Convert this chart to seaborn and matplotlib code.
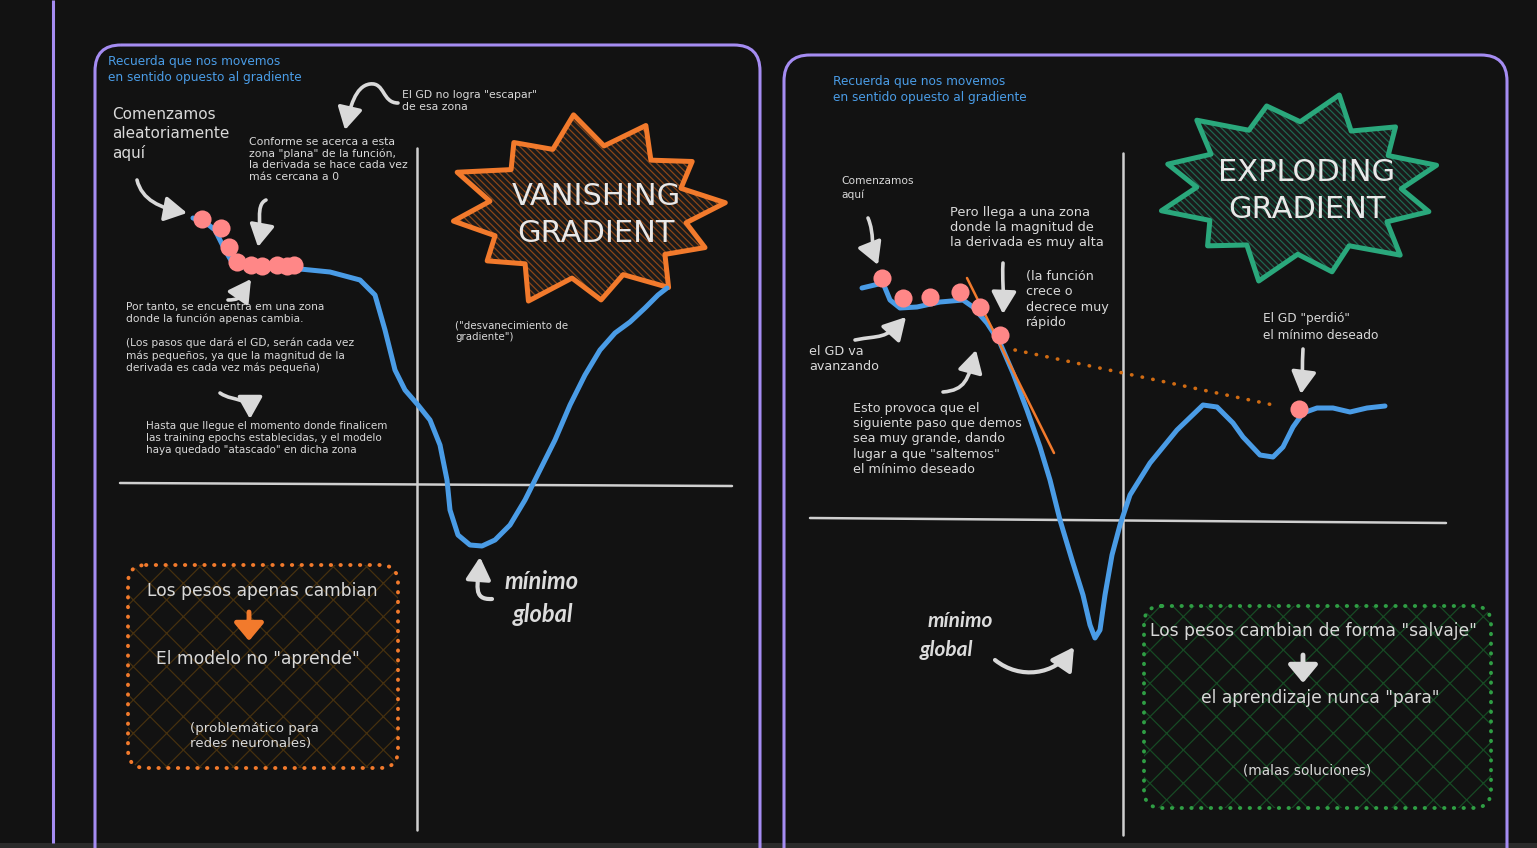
import numpy as np
import pandas as pd
import matplotlib
matplotlib.use("Agg")
import matplotlib.pyplot as plt
import seaborn as sns
from matplotlib.patches import FancyBboxPatch, Polygon, FancyArrowPatch, Rectangle
from matplotlib.path import Path

# ---------------- data ----------------
# Vanishing gradient panel: loss curve (x, y in arbitrary function units)
van_x = [-2.24, -2.12, -2.02, -1.92, -1.85, -1.72, -1.27, -0.87, -0.57, -0.42, -0.32, -0.22,
         -0.12, 0.01, 0.13, 0.23, 0.30, 0.33, 0.41, 0.53, 0.65, 0.78, 0.93, 1.08, 1.23, 1.38,
         1.53, 1.68, 1.83, 1.98, 2.13, 2.28, 2.41, 2.50]
van_y = [2.66, 2.62, 2.54, 2.34, 2.22, 2.17, 2.16, 2.12, 2.04, 1.89, 1.54, 1.14,
         0.94, 0.79, 0.64, 0.39, 0.04, -0.26, -0.51, -0.61, -0.62, -0.56, -0.41, -0.16, 0.14, 0.44,
         0.79, 1.09, 1.34, 1.51, 1.62, 1.76, 1.89, 1.96]
van_steps_x = [-2.15, -1.96, -1.88, -1.80, -1.66, -1.55, -1.40, -1.30, -1.23]
van_steps_y = [2.65, 2.56, 2.37, 2.22, 2.19, 2.18, 2.19, 2.18, 2.19]

# Exploding gradient panel: loss curve
exp_x = [-2.61, -2.40, -2.33, -2.23, -2.06, -1.83, -1.60, -1.50, -1.36, -1.23, -1.10, -0.96,
         -0.83, -0.73, -0.63, -0.51, -0.40, -0.33, -0.28, -0.23, -0.18, -0.11, -0.03, 0.07,
         0.27, 0.54, 0.80, 0.94, 1.10, 1.20, 1.37, 1.50, 1.60, 1.70, 1.80, 1.94, 2.10, 2.27,
         2.44, 2.62]
exp_y = [2.32, 2.37, 2.20, 2.12, 2.13, 2.18, 2.20, 2.13, 1.97, 1.77, 1.47, 1.10,
         0.73, 0.40, 0.00, -0.40, -0.75, -1.05, -1.18, -1.10, -0.75, -0.35, -0.05, 0.25,
         0.57, 0.90, 1.15, 1.13, 0.97, 0.83, 0.65, 0.63, 0.73, 0.93, 1.07, 1.12, 1.12, 1.08,
         1.12, 1.14]
exp_steps_x = [-2.41, -2.20, -1.93, -1.63, -1.43, -1.23, 1.76]
exp_steps_y = [2.42, 2.22, 2.23, 2.28, 2.13, 1.85, 1.11]
tangent_x = [-1.56, -0.69]
tangent_y = [2.42, 0.67]
jump_x = [-1.08, 1.55]
jump_y = [1.70, 1.14]

van_df = pd.DataFrame({"x": van_x, "y": van_y})
exp_df = pd.DataFrame({"x": exp_x, "y": exp_y})

# ---------------- style ----------------
BG = "#121212"
WHITE = "#d9d9d9"
BLUE = "#4a9ce6"
PINK = "#ff8787"
ORANGE = "#f27a2c"
GREEN = "#2aa87c"
PURPLE = "#a58cf2"

sns.set_theme(style="dark", rc={"axes.facecolor": BG, "figure.facecolor": BG})
plt.rcParams["font.family"] = ["DejaVu Sans"]
plt.rcParams["hatch.linewidth"] = 0.9

W, H = 1537, 848
fig = plt.figure(figsize=(W / 100, H / 100), dpi=100, facecolor=BG)
ax0 = fig.add_axes([0, 0, 1, 1])
ax0.set_xlim(0, W)
ax0.set_ylim(H, 0)
ax0.axis("off")

# window frame bits
ax0.add_patch(Rectangle((0, 843), W, 5, color="#2b2b2b", lw=0))
ax0.plot([53, 53], [0, 843], color=PURPLE, lw=2.2, solid_capstyle="butt")

# panels
for (x0, y0, w) in [(95, 45, 665), (784, 55, 723)]:
    ax0.add_patch(FancyBboxPatch((x0, y0), w, 950, boxstyle="round,pad=0,rounding_size=26",
                                 fill=False, ec=PURPLE, lw=2.2))


def arrow(pts, color=WHITE, lw=2.6, hw=0.42, hl=0.75, ms=18):
    codes = [Path.MOVETO] + [Path.CURVE4] * (len(pts) - 1)
    p = FancyArrowPatch(path=Path(pts, codes),
                        arrowstyle=f"-|>,head_length={hl},head_width={hw}",
                        mutation_scale=ms, color=color, lw=lw,
                        capstyle="round", joinstyle="round")
    ax0.add_patch(p)


def txt(x, y, s, size=8, color=WHITE, ha="left", ls=1.3, **kw):
    ax0.text(x, y, s, fontsize=size, color=color, ha=ha, va="top", linespacing=ls, **kw)


def star(cx, cy, rx, ry, outer, inner=0.72, rot=0.1):
    n = len(outer)
    pts = []
    for i in range(n):
        a = rot + 2 * np.pi * i / n
        pts.append((cx + rx * outer[i] * np.cos(a), cy - ry * outer[i] * np.sin(a)))
        a2 = a + np.pi / n
        pts.append((cx + rx * inner * np.cos(a2), cy - ry * inner * np.sin(a2)))
    return pts


def burst(cx, cy, rx, ry, outer, color, hatchcol, label, rot):
    pts = star(cx, cy, rx, ry, outer, rot=rot)
    ax0.add_patch(Polygon(pts, closed=True, fc="#1b1b1b", ec=hatchcol, lw=0, hatch="\\\\\\\\\\"))
    ax0.add_patch(Polygon(pts, closed=True, fill=False, ec=color, lw=3.6, joinstyle="round"))
    ax0.text(cx + 8, cy + 3, label, fontsize=22, color="#e8e8e8", ha="center", va="center",
             linespacing=1.35)


def dotted_box(x, y, w, h, color, hatchcol):
    ax0.add_patch(FancyBboxPatch((x, y), w, h, boxstyle="round,pad=0,rounding_size=18",
                                 fc=BG, ec=hatchcol, lw=0, hatch="x"))
    ax0.add_patch(FancyBboxPatch((x, y), w, h, boxstyle="round,pad=0,rounding_size=18",
                                 fill=False, ec=color, lw=2.8, linestyle=(0, (0.1, 2.4)),
                                 capstyle="round"))


HAND = dict(fontweight="bold", fontstyle="italic", color="#dcdcdc", family=["Lato", "DejaVu Sans"])

# ---------------- left panel: vanishing gradient ----------------
txt(108, 55, "Recuerda que nos movemos\nen sentido opuesto al gradiente", size=8.7, color=BLUE, ls=1.33)
txt(112, 107, "Comenzamos\naleatoriamente\naquí", size=11, ls=1.32)
txt(402, 90, "El GD no logra \"escapar\"\nde esa zona", size=7.8, ls=1.25)
txt(249, 137, "Conforme se acerca a esta\nzona \"plana\" de la función,\nla derivada se hace cada vez\nmás cercana a 0",
    size=7.8, ls=1.18)
txt(126, 302, "Por tanto, se encuentra em una zona\ndonde la función apenas cambia.\n\n"
              "(Los pasos que dará el GD, serán cada vez\nmás pequeños, ya que la magnitud de la\n"
              "derivada es cada vez más pequeña)", size=7.7, ls=1.22)
txt(146, 421, "Hasta que llegue el momento donde finalicem\nlas training epochs establecidas, y el modelo\n"
              "haya quedado \"atascado\" en dicha zona", size=7.5, ls=1.22)
txt(455, 320, "(\"desvanecimiento de\ngradiente\")", size=7.4, ls=1.25)
txt(505, 570, "mínimo", size=17, **HAND)
txt(513, 603, "global", size=17, **HAND)

burst(588, 212, 138, 93, [1.0, 0.93, 1.02, 1.05, 0.92, 1.04, 0.98, 0.9, 1.05, 0.95, 1.0, 0.93],
      ORANGE, "#8a4618", "VANISHING\nGRADIENT", rot=0.1)

arrow([(137, 180), (142, 200), (160, 208), (187, 213)])
arrow([(266, 200), (255, 205), (262, 225), (258, 247)])
arrow([(398, 103), (382, 103), (385, 82), (370, 84), (355, 86), (350, 108), (345, 130)])
arrow([(228, 300), (245, 300), (242, 292), (251, 279)])
arrow([(220, 393), (235, 403), (250, 395), (250, 419)])
arrow([(492, 599), (472, 600), (478, 585), (480, 557)], lw=3)

dotted_box(128, 565, 270, 203, ORANGE, "#45300f")
txt(262, 582, "Los pesos apenas cambian", size=12.3, ha="center")
arrow([(249, 612), (249, 620), (249, 628), (249, 641)], color=ORANGE, lw=3.5, hw=0.5, hl=0.6)
txt(258, 650, "El modelo no \"aprende\"", size=12.3, ha="center")
txt(190, 722, "(problemático para\nredes neuronales)", size=9.6, ls=1.22)

# ---------------- right panel: exploding gradient ----------------
txt(833, 75, "Recuerda que nos movemos\nen sentido opuesto al gradiente", size=8.7, color=BLUE, ls=1.33)
txt(841, 176, "Comenzamos\naquí", size=7.7, ls=1.38)
txt(950, 206, "Pero llega a una zona\ndonde la magnitud de\nla derivada es muy alta", size=9.4, ls=1.2)
txt(1026, 270, "(la función\ncrece o\ndecrece muy\nrápido", size=9.2, ls=1.24)
txt(809, 345, "el GD va\navanzando", size=9.2, ls=1.24)
txt(853, 402, "Esto provoca que el\nsiguiente paso que demos\nsea muy grande, dando\nlugar a que \"saltemos\"\nel mínimo deseado",
    size=9.2, ls=1.22)
txt(1263, 312, "El GD \"perdió\"\nel mínimo deseado", size=8.7, ls=1.36)
txt(928, 611, "mínimo", size=15, **HAND)
txt(920, 640, "global", size=15, **HAND)

burst(1299, 188, 142, 92, [1.0, 0.95, 1.05, 0.92, 1.03, 0.96, 1.0, 0.9, 1.05, 0.94, 1.02, 0.95],
      GREEN, "#1f6650", "EXPLODING\nGRADIENT", rot=0.25)

arrow([(868, 218), (875, 235), (870, 245), (878, 265)])
arrow([(855, 340), (880, 335), (885, 340), (906, 317)])
arrow([(943, 392), (965, 390), (968, 380), (976, 350)])
arrow([(1003, 263), (1002, 280), (1004, 290), (1003, 314)])
arrow([(1303, 349), (1302, 365), (1303, 378), (1301, 394)])
arrow([(995, 660), (1020, 680), (1055, 675), (1074, 647)], lw=3)

dotted_box(1144, 606, 347, 202, "#2f9e44", "#174a24")
txt(1313, 622, "Los pesos cambian de forma \"salvaje\"", size=12.3, ha="center")
arrow([(1303, 655), (1303, 662), (1303, 670), (1303, 683)], lw=3.5, hw=0.5, hl=0.6)
txt(1320, 689, "el aprendizaje nunca \"para\"", size=12.3, ha="center")
txt(1307, 763, "(malas soluciones)", size=9.8, ha="center")


# ---------------- curve axes ----------------
def curve_axes(ox, oy):
    ax = fig.add_axes([0, 0, 1, 1], facecolor="none")
    ax.set_xlim((0 - ox) / 100, (W - ox) / 100)
    ax.set_ylim((oy - H) / 100, oy / 100)
    ax.axis("off")
    return ax


axL = curve_axes(417, 484)
axL.plot([-2.97, 3.15], [0.01, -0.02], color="#cfcfcf", lw=1.8)
axL.plot([0.0, 0.0], [3.36, -3.46], color="#cfcfcf", lw=1.8)
sns.lineplot(data=van_df, x="x", y="y", sort=False, ax=axL, color=BLUE, lw=3.6,
             solid_capstyle="round", solid_joinstyle="round")
sns.scatterplot(x=van_steps_x, y=van_steps_y, ax=axL, color=PINK, s=170, linewidth=0, zorder=5)
axL.axis("off")

axR = curve_axes(1123, 520)
axR.plot([-3.13, 3.23], [0.02, -0.03], color="#cfcfcf", lw=1.8)
axR.plot([0.0, 0.0], [3.67, -3.15], color="#cfcfcf", lw=1.8)
sns.lineplot(data=exp_df, x="x", y="y", sort=False, ax=axR, color=BLUE, lw=3.6,
             solid_capstyle="round", solid_joinstyle="round")
axR.plot(tangent_x, tangent_y, color=ORANGE, lw=1.8, zorder=4)
axR.plot(jump_x, jump_y, color="#d06b12", lw=2.6, linestyle=(0, (0.1, 2.9)),
         dash_capstyle="round", zorder=4)
sns.scatterplot(x=exp_steps_x, y=exp_steps_y, ax=axR, color=PINK, s=170, linewidth=0, zorder=5)
axR.axis("off")

fig.savefig("out.png", dpi=100, facecolor=BG)
